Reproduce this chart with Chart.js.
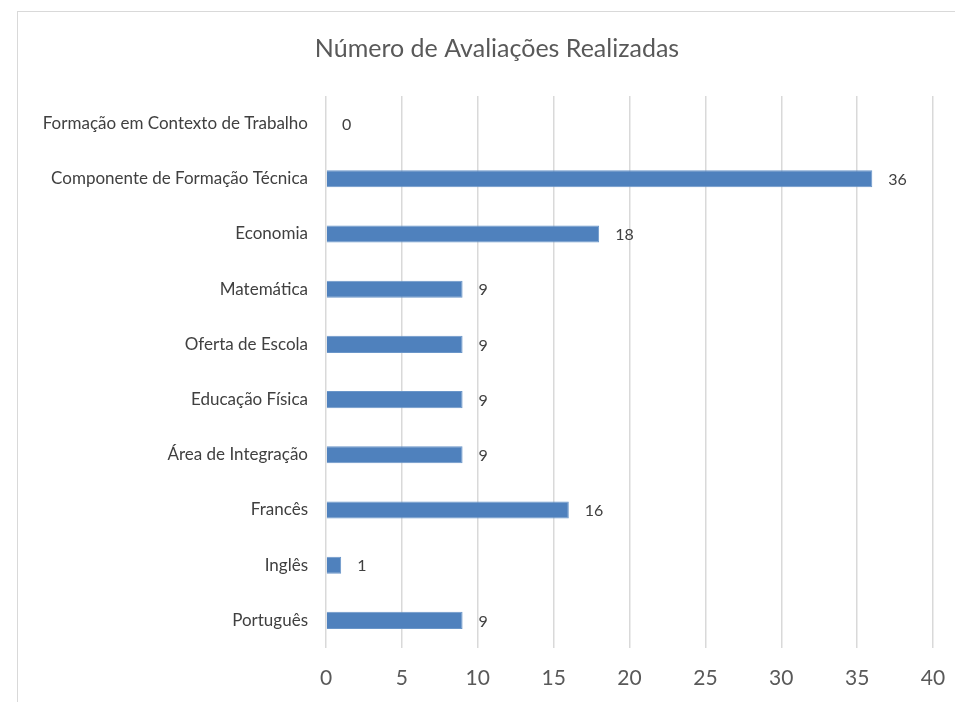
<!DOCTYPE html>
<html>
<head>
<meta charset="utf-8">
<script src="https://cdn.jsdelivr.net/npm/chart.js@4.4.0/dist/chart.umd.min.js"></script>
<style>
    body { margin: 0; background: #fff; overflow: hidden; }
    #wrap {
        position: absolute;
        left: 17px;
        top: 11px;
        width: 938px;
        height: 691px;
        overflow: hidden;
        border-left: 1px solid #d9d9d9;
        border-top: 1px solid #d9d9d9;
    }
</style>
</head>
<body>
<div id="wrap"><canvas id="evals_chart" width="958" height="690"></canvas></div>
<script>
// categories, top to bottom
const disciplinas = [
    'Formação em Contexto de Trabalho',
    'Componente de Formação Técnica',
    'Economia',
    'Matemática',
    'Oferta de Escola',
    'Educação Física',
    'Área de Integração',
    'Francês',
    'Inglês',
    'Português'
];
const avaliacoes = [0, 36, 18, 9, 9, 9, 9, 16, 1, 9];
const xMin = 0;
const xMax = 40;
const xStep = 5;

const fontFamily = 'Lato, "Open Sans", sans-serif';

// value labels next to the bars
const valueLabels = {
    id: 'valueLabels',
    afterDatasetsDraw(chart) {
        const c = chart.ctx;
        const meta = chart.getDatasetMeta(0);
        c.save();
        c.font = '16px ' + fontFamily;
        c.fillStyle = '#404040';
        c.textAlign = 'left';
        c.textBaseline = 'middle';
        meta.data.forEach((bar, i) => {
            c.fillText(String(avaliacoes[i]), bar.x + 16, bar.y + 1);
        });
        c.restore();
    }
};

const ctx = document.getElementById('evals_chart').getContext('2d');

new Chart(ctx, {
    type: 'bar',
    data: {
        labels: disciplinas,
        datasets: [
            {
                label: 'Número de Avaliações Realizadas',
                data: avaliacoes,
                backgroundColor: '#4f81bd',
                borderColor: '#6a96c9',
                borderWidth: 1,
                barPercentage: 0.62,
                categoryPercentage: 0.5
            }
        ]
    },
    options: {
        indexAxis: 'y',
        responsive: false,
        animation: false,
        layout: { padding: 0 },
        plugins: {
            legend: { display: false },
            tooltip: { enabled: false },
            title: {
                display: true,
                text: 'Número de Avaliações Realizadas',
                color: '#595959',
                font: { family: fontFamily, size: 25, weight: 'normal' },
                padding: { top: 22, bottom: 32 }
            }
        },
        scales: {
            x: {
                min: xMin,
                max: xMax,
                ticks: {
                    stepSize: xStep,
                    color: '#595959',
                    font: { family: fontFamily, size: 21 },
                    padding: 18
                },
                grid: { color: '#d9d9d9', lineWidth: 1.5, drawTicks: false },
                border: { display: false },
                afterFit(scale) {
                    scale.height = 54;
                    scale.paddingLeft = 0;
                    scale.paddingRight = 43;
                }
            },
            y: {
                ticks: {
                    color: '#404040',
                    font: { family: fontFamily, size: 17 },
                    padding: 18
                },
                grid: { display: false, drawTicks: false },
                border: { display: false },
                afterFit(scale) { scale.width = 308; }
            }
        }
    },
    plugins: [valueLabels]
});
</script>
</body>
</html>
